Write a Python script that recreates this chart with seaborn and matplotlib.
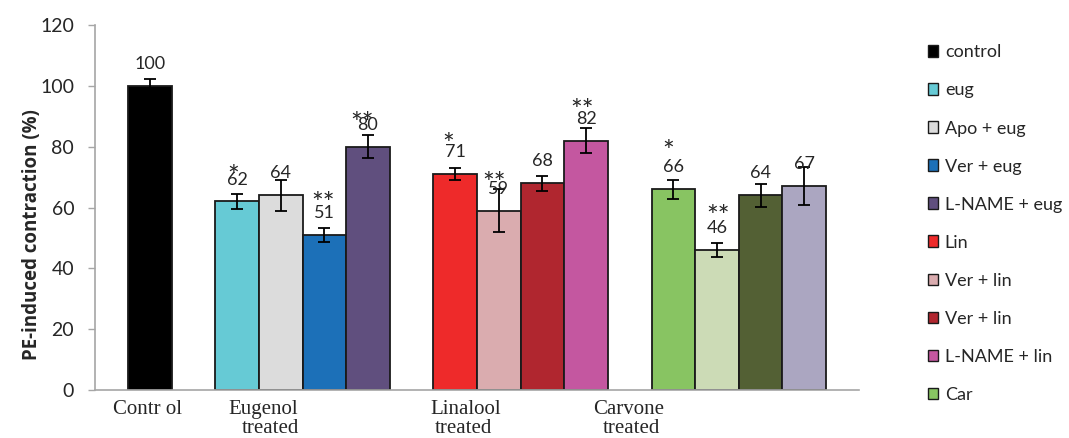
import numpy as np
import pandas as pd
import matplotlib
matplotlib.use("Agg")
import matplotlib.pyplot as plt
from matplotlib.patches import Patch
import seaborn as sns

# Bars in drawing order (empty slots separate the treatment groups)
slots = ["control", "gap1", "eug", "Apo + eug", "Ver + eug", "L-NAME + eug", "gap2",
         "Lin", "Ver + lin", "Ver + lin (2)", "L-NAME + lin", "gap3",
         "Car", "Car 2", "Car 3", "Car 4"]
bar_keys = ["control", "eug", "Apo + eug", "Ver + eug", "L-NAME + eug",
            "Lin", "Ver + lin", "Ver + lin (2)", "L-NAME + lin",
            "Car", "Car 2", "Car 3", "Car 4"]
values = [100, 62, 64, 51, 80, 71, 59, 68, 82, 66, 46, 64, 67]
errors = [2.3, 2.5, 5.0, 2.3, 3.8, 2.0, 7.0, 2.5, 4.2, 3.1, 2.4, 3.8, 6.3]
stars = ["", "*", "", "**", "**", "*", "**", "", "**", "*", "**", "", ""]
colors = ["#000000", "#66CAD5", "#DCDCDC", "#1C70B8", "#604F7E",
          "#EE2A2A", "#DAACAF", "#B0262F", "#C457A0",
          "#88C462", "#CCDBB6", "#536034", "#ABA6C1"]
legend_labels = ["control", "eug", "Apo + eug", "Ver + eug", "L-NAME + eug",
                 "Lin", "Ver + lin", "Ver + lin", "L-NAME + lin", "Car"]
group_line1 = ["Contr ol", "Eugenol", "Linalool", "Carvone"]
group_line2 = ["", "treated", "treated", "treated"]

# Layout of annotations (slot units / data units)
line1_x = [-0.85, 1.79, 6.44, 10.16]
line2_x = [-0.85, 2.11, 6.54, 10.39]
star_dx = [0, -0.10, 0, -0.03, -0.13, -0.16, -0.10, 0, -0.09, -0.11, 0.02, 0, 0]
star_dy = [0, 7.6, 0, 9.8, 7.1, 9.1, 8.4, 0, 9.5, 11.8, 10.4, 0, 0]

df = pd.DataFrame({"key": bar_keys, "value": values, "err": errors})
palette = dict(zip(bar_keys, colors))

sns.set_style("white")
plt.rcParams["font.family"] = ["Lato", "DejaVu Sans"]

fig = plt.figure(figsize=(10.69, 4.38), dpi=100)
ax = fig.add_axes([0.0889, 0.1096, 0.7147, 0.8333])

sns.barplot(data=df, x="key", y="value", hue="key", order=slots, hue_order=bar_keys,
            palette=palette, saturation=1, width=1.0, dodge=False, legend=False,
            edgecolor="#1a1a1a", linewidth=1.3, errorbar=None, ax=ax)

pos = {k: i for i, k in enumerate(slots)}
xs = np.array([pos[k] for k in bar_keys])
ax.errorbar(xs, values, yerr=errors, fmt="none", ecolor="black",
            elinewidth=1.3, capsize=4, capthick=1.3, zorder=5)

for x, v in zip(xs, values):
    ax.text(x, v + 7.2, f"{v}", ha="center", va="center", fontsize=13, zorder=6)

for x, v, s, dx, dy in zip(xs, values, stars, star_dx, star_dy):
    if s:
        ax.text(x + dx, v + dy, s, ha="center", va="center",
                fontsize=20, zorder=6)

ax.set_ylim(0, 120)
ax.set_xlim(-1.257, 16.257)
ax.set_yticks(range(0, 121, 20))
ax.tick_params(axis="y", labelsize=14, length=5, pad=10, color="#a6a6a6", width=1, left=True)
ax.tick_params(axis="x", bottom=False, labelbottom=False)
ax.set_xlabel("")
ax.set_ylabel("")
fig.text(32 / 1069, 1 - 235 / 438, "PE-induced contraction (%)", rotation=90,
         ha="center", va="center", fontsize=13.5, fontweight="bold", family="Open Sans")
for side in ["top", "right"]:
    ax.spines[side].set_visible(False)
for side in ["left", "bottom"]:
    ax.spines[side].set_color("#a6a6a6")
    ax.spines[side].set_linewidth(1.2)

trans = matplotlib.transforms.blended_transform_factory(ax.transData, fig.transFigure)
for gx, lab in zip(line1_x, group_line1):
    ax.text(gx, 1 - 414 / 438, lab, transform=trans, ha="left", va="baseline",
            fontsize=15, family="Liberation Serif")
for gx, lab in zip(line2_x, group_line2):
    if lab:
        ax.text(gx, 1 - 433 / 438, lab, transform=trans, ha="left", va="baseline",
                fontsize=15, family="Liberation Serif")

handles = [Patch(facecolor=c, edgecolor="#1a1a1a", linewidth=1.0) for c in colors[:10]]
fig.legend(handles, legend_labels, loc="upper left", bbox_to_anchor=(0.861, 0.915),
           frameon=False, fontsize=13, handlelength=0.6, handleheight=0.6,
           handletextpad=0.35, labelspacing=1.22, borderaxespad=0)

fig.savefig("out.png", dpi=100)
